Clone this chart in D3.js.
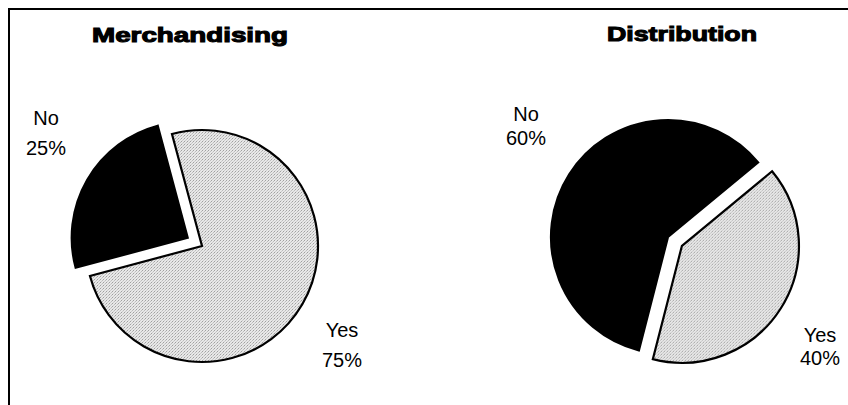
<!DOCTYPE html>
<html>
<head>
<meta charset="utf-8">
<script src="https://cdn.jsdelivr.net/npm/d3@7"></script>
<style>
  html, body { margin: 0; padding: 0; background: #fff; }
  svg { display: block; }
</style>
</head>
<body>
<svg id="chart" width="848" height="405"></svg>
<script>
// ---- data ----
const chartTitles = ["Merchandising", "Distribution"];
const categories = ["Yes", "No"];
const merchandisingValues = [75, 25];
const distributionValues = [40, 60];
const seriesValues = [merchandisingValues, distributionValues];

// ---- layout / style (not data) ----
const layout = [
  { cx: 202, cy: 246, r: 116, start: -15, explode: "No",
    titleX: 190, titleY: 42, titleW: 196,
    labels: { No: [46, 125, 155], Yes: [342, 337, 367] } },
  { cx: 668, cy: 237, r: 117, start: 50.4, explode: "Yes",
    titleX: 682, titleY: 41, titleW: 150,
    labels: { No: [526, 121, 145], Yes: [820, 342, 365] } }
];
const explodeDist = 16.5;

const svg = d3.select("#chart");

// stipple pattern for the light slices
const defs = svg.append("defs");
const pat = defs.append("pattern")
  .attr("id", "stipple").attr("width", 3).attr("height", 3)
  .attr("patternUnits", "userSpaceOnUse");
pat.append("rect").attr("width", 3).attr("height", 3).attr("fill", "#e8e8e8");
pat.append("rect").attr("x", 0).attr("y", 0).attr("width", 1).attr("height", 1).attr("fill", "#a0a0a0");
pat.append("rect").attr("x", 2).attr("y", 1).attr("width", 1).attr("height", 1).attr("fill", "#bcbcbc");
pat.append("rect").attr("x", 1).attr("y", 2).attr("width", 1).attr("height", 1).attr("fill", "#cacaca");

const color = d3.scaleOrdinal().domain(categories).range(["url(#stipple)", "#000"]);

// frame
svg.append("line").attr("x1", 8).attr("x2", 848).attr("y1", 9).attr("y2", 9)
  .attr("stroke", "#000").attr("stroke-width", 2);
svg.append("line").attr("x1", 9).attr("x2", 9).attr("y1", 8).attr("y2", 405)
  .attr("stroke", "#000").attr("stroke-width", 2);

const rad = d => d * Math.PI / 180;

seriesValues.forEach((vals, i) => {
  const L = layout[i];
  const data = categories.map((c, k) => ({ cat: c, value: vals[k] }));
  const pie = d3.pie().sort(null).value(d => d.value)
    .startAngle(rad(L.start)).endAngle(rad(L.start) + 2 * Math.PI);
  const arc = d3.arc().innerRadius(0).outerRadius(L.r);
  const arcs = pie(data);

  const g = svg.append("g").attr("transform", `translate(${L.cx},${L.cy})`);

  g.selectAll("path").data(arcs).join("path")
    .attr("transform", d => {
      if (d.data.cat !== L.explode) return null;
      const m = (d.startAngle + d.endAngle) / 2;
      return `translate(${explodeDist * Math.sin(m)},${-explodeDist * Math.cos(m)})`;
    })
    .attr("d", arc)
    .attr("fill", d => color(d.data.cat))
    .attr("stroke", "#000")
    .attr("stroke-width", 2.2)
    .attr("stroke-linejoin", "miter");

  // title
  svg.append("text")
    .attr("x", L.titleX).attr("y", L.titleY)
    .attr("text-anchor", "middle")
    .attr("font-family", "Liberation Sans, Arial, sans-serif")
    .attr("font-weight", "bold")
    .attr("font-size", 21)
    .attr("stroke", "#000").attr("stroke-width", 1.1)
    .attr("textLength", L.titleW).attr("lengthAdjust", "spacingAndGlyphs")
    .text(chartTitles[i]);

  // labels
  const total = d3.sum(vals);
  data.forEach(d => {
    const p = L.labels[d.cat];
    const t = svg.append("text")
      .attr("text-anchor", "middle")
      .attr("font-family", "Liberation Sans, Arial, sans-serif")
      .attr("font-size", 20)
      .attr("fill", "#000");
    t.append("tspan").attr("x", p[0]).attr("y", p[1]).text(d.cat);
    t.append("tspan").attr("x", p[0]).attr("y", p[2])
      .text(Math.round(d.value / total * 100) + "%");
  });
});
</script>
</body>
</html>
